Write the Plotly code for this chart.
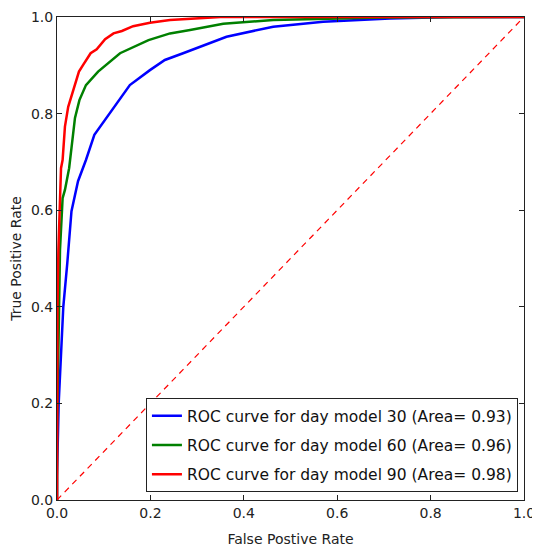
import plotly.graph_objects as go

# ---- data ----
fpr_30 = [0, 0.0, 0.0036, 0.009, 0.0135, 0.022, 0.031, 0.045, 0.062, 0.08, 0.117, 0.156,
          0.199, 0.231, 0.27, 0.306, 0.363, 0.463, 0.57, 0.713, 0.85, 1.0]
tpr_30 = [0, 0.05, 0.20, 0.31, 0.40, 0.49, 0.598, 0.66, 0.704, 0.756, 0.807, 0.859,
          0.890, 0.911, 0.925, 0.938, 0.959, 0.980, 0.990, 0.997, 1.0, 1.0]

fpr_60 = [0, 0.0, 0.003, 0.0064, 0.012, 0.017, 0.026, 0.031, 0.0385, 0.048, 0.062, 0.088,
          0.135, 0.196, 0.242, 0.285, 0.356, 0.463, 0.57, 0.7, 1.0]
tpr_60 = [0, 0.15, 0.31, 0.518, 0.625, 0.642, 0.687, 0.725, 0.791, 0.828, 0.859, 0.887,
          0.925, 0.952, 0.966, 0.973, 0.986, 0.994, 0.996, 0.999, 1.0]

fpr_90 = [0, 0.0, 0.001, 0.003, 0.0064, 0.0086, 0.012, 0.017, 0.024, 0.035, 0.047, 0.056,
          0.072, 0.085, 0.103, 0.121, 0.139, 0.163, 0.199, 0.242, 0.285, 0.35, 1.0]
tpr_90 = [0, 0.30, 0.40, 0.518, 0.60, 0.687, 0.704, 0.773, 0.814, 0.849, 0.887, 0.901,
          0.925, 0.933, 0.954, 0.966, 0.971, 0.981, 0.988, 0.994, 0.997, 1.0, 1.0]

series_names = ["ROC curve for day model 30 (Area= 0.93)",
                "ROC curve for day model 60 (Area= 0.96)",
                "ROC curve for day model 90 (Area= 0.98)"]
series_colors = ["#0000ff", "#008000", "#ff0000"]

diag_x = [0, 1]
diag_y = [0, 1]

tick_vals = [0.0, 0.2, 0.4, 0.6, 0.8, 1.0]
tick_text = ["0.0", "0.2", "0.4", "0.6", "0.8", "1.0"]

FONT = "DejaVu Sans"

fig = go.Figure()
for i, (fx, ty) in enumerate([(fpr_30, tpr_30), (fpr_60, tpr_60), (fpr_90, tpr_90)]):
    fig.add_trace(go.Scatter(x=fx, y=ty, mode="lines", name=series_names[i],
                             legendgroup=f"g{i}",
                             line=dict(color=series_colors[i], width=2.5)))
fig.add_trace(go.Scatter(x=diag_x, y=diag_y, mode="lines", showlegend=False,
                         line=dict(color="#ff0000", width=1.2, dash="6px,5px")))

axis_common = dict(range=[0, 1], tickvals=tick_vals, ticktext=tick_text, automargin=False,
                   ticklabeloverflow="allow",
                   showgrid=False, zeroline=False, showline=True, linecolor="#222222",
                   linewidth=1, mirror="allticks", ticks="inside", ticklen=5,
                   tickcolor="#222222", tickfont=dict(family=FONT, size=14, color="#222222"))

# the page body adds an 8px offset; the figure is sized to land the plot at the reference spot
fig.update_layout(
    width=532, height=544,
    margin=dict(l=49, r=16, t=9, b=52, autoexpand=False),
    paper_bgcolor="white", plot_bgcolor="white",
    font=dict(family=FONT, color="#222222"),
    xaxis=dict(**axis_common, title=dict(text="False Postive Rate",
               font=dict(family=FONT, size=14), standoff=14)),
    yaxis=dict(**axis_common, title=dict(text="True Positive Rate",
               font=dict(family=FONT, size=14), standoff=9)),
    legend=dict(x=0.987, y=0.016, xanchor="right", yanchor="bottom",
                bgcolor="white", bordercolor="#222222", borderwidth=1,
                font=dict(family=FONT, size=15.5, color="#111111"),
                tracegroupgap=6),
)

fig.write_html("out.html")
